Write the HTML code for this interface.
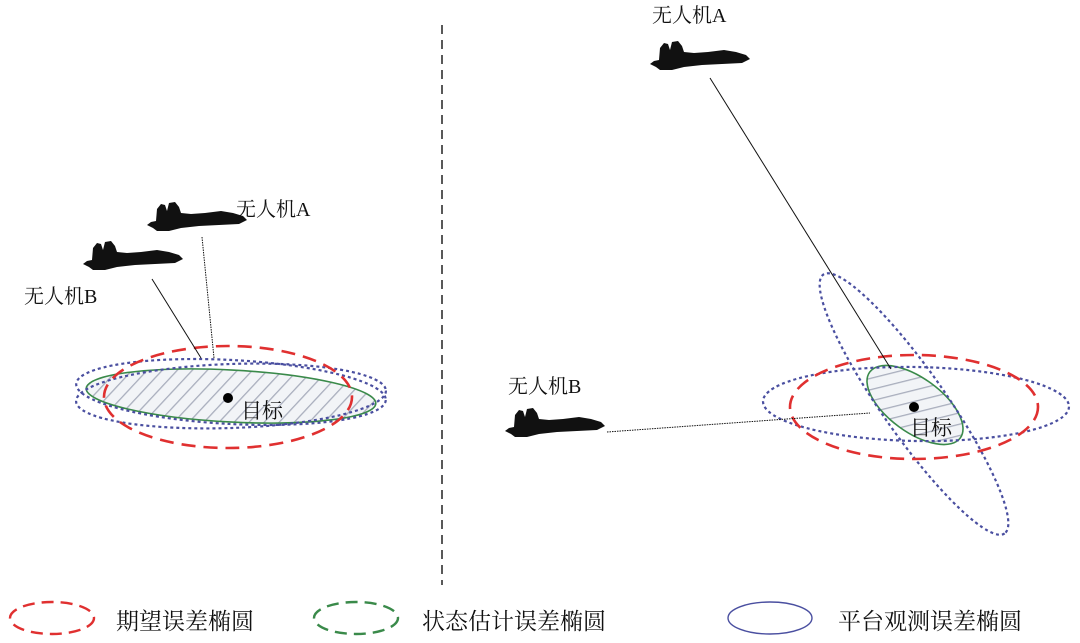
<!DOCTYPE html>
<html><head><meta charset="utf-8"><style>
html,body{margin:0;padding:0;background:#fff;}
svg{display:block;}
text{font-family:"Liberation Serif","Noto Serif CJK SC","Noto Sans CJK SC",serif;fill:#111;}
</style></head><body>
<svg width="1080" height="643" viewBox="0 0 1080 643" xmlns="http://www.w3.org/2000/svg">
<defs>
<pattern id="h" patternUnits="userSpaceOnUse" width="11" height="11" patternTransform="rotate(40)">
<rect width="11" height="11" fill="#f2f4f7"/>
<line x1="0" y1="0" x2="0" y2="11" stroke="#a9aebd" stroke-width="2.6"/>
</pattern>
<path id="jet" d="M0,24 L4,21 L9,20 L10,8 L14,3 L18,4 L20,10 L22,2 L28,1 L32,6 L34,12 L44,13 L58,12 L74,10 L86,12 L96,15 L100,19 L92,23 L72,24 L52,25 L34,27 L22,30 L10,30 L6,27 Z" fill="#111"/>
</defs>

<line x1="442" y1="25" x2="442" y2="585" stroke="#222" stroke-width="1.5" stroke-dasharray="9,6"/>

<!-- Left -->
<ellipse cx="231" cy="396" rx="145" ry="26" transform="rotate(3 231 396)" fill="url(#h)" stroke="#3a8a4a" stroke-width="1.6"/>
<ellipse cx="231" cy="392" rx="155" ry="32" transform="rotate(3 231 392)" fill="none" stroke="#4a4fa0" stroke-width="2.2" stroke-dasharray="3,3"/>
<ellipse cx="231" cy="396" rx="155" ry="32" transform="rotate(-2 231 396)" fill="none" stroke="#4a4fa0" stroke-width="2.2" stroke-dasharray="3,3"/>
<ellipse cx="228" cy="397" rx="124" ry="51" fill="none" stroke="#e03030" stroke-width="2.6" stroke-dasharray="14,8"/>
<line x1="202" y1="237" x2="214" y2="358" stroke="#111" stroke-width="1" stroke-dasharray="1.5,1"/>
<line x1="152" y1="279" x2="201" y2="358" stroke="#111" stroke-width="1"/>
<circle cx="228" cy="398" r="5" fill="#000"/>
<text x="241" y="418" font-size="21">目标</text>
<use href="#jet" transform="translate(147,201)"/>
<use href="#jet" transform="translate(83,240)"/>
<text x="236" y="216" font-size="20">无人机A</text>
<text x="24" y="303" font-size="20">无人机B</text>

<!-- Right -->
<ellipse cx="915" cy="405" rx="56" ry="27" transform="rotate(36 915 405)" fill="url(#h)" stroke="#3a8a4a" stroke-width="1.6"/>
<ellipse cx="916" cy="404" rx="153" ry="37" transform="rotate(1 916 404)" fill="none" stroke="#4a4fa0" stroke-width="2.2" stroke-dasharray="3,3"/>
<ellipse cx="914" cy="404" rx="158" ry="32" transform="rotate(55 914 404)" fill="none" stroke="#4a4fa0" stroke-width="2.2" stroke-dasharray="3,3"/>
<ellipse cx="914" cy="407" rx="124" ry="52" fill="none" stroke="#e03030" stroke-width="2.6" stroke-dasharray="14,8"/>
<line x1="710" y1="78" x2="891" y2="369" stroke="#111" stroke-width="1"/>
<line x1="607" y1="432" x2="870" y2="413" stroke="#111" stroke-width="1" stroke-dasharray="1.5,1"/>
<circle cx="914" cy="407" r="5" fill="#000"/>
<text x="910" y="435" font-size="21">目标</text>
<use href="#jet" transform="translate(650,40)"/>
<use href="#jet" transform="translate(505,407)"/>
<text x="652" y="22" font-size="20">无人机A</text>
<text x="508" y="393" font-size="20">无人机B</text>

<!-- Legend -->
<ellipse cx="52" cy="618" rx="42" ry="16" fill="none" stroke="#e03030" stroke-width="2.4" stroke-dasharray="12,7"/>
<text x="116" y="629" font-size="23">期望误差椭圆</text>
<ellipse cx="356" cy="618" rx="42" ry="16" fill="none" stroke="#3a8a4a" stroke-width="2.4" stroke-dasharray="12,7"/>
<text x="422" y="629" font-size="23">状态估计误差椭圆</text>
<ellipse cx="770" cy="618" rx="42" ry="16" fill="none" stroke="#4a4fa0" stroke-width="1.4"/>
<text x="838" y="629" font-size="23">平台观测误差椭圆</text>
</svg>
</body></html>
